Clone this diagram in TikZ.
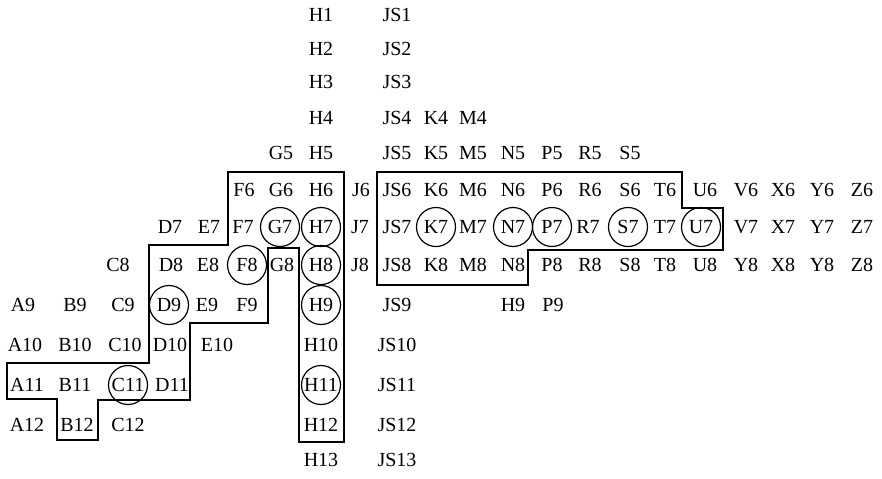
\documentclass[tikz,border=0pt]{standalone}
\usepackage{fontspec}
\setmainfont{Liberation Serif}

\begin{document}
\begin{tikzpicture}[x=0.5pt,y=-0.5pt,
    lbl/.style={inner sep=0pt, font=\fontsize{10}{12}\selectfont},
    ring/.style={lbl, draw, circle, minimum size=19.5pt, line width=0.6pt},
    rim/.style={line width=1.2pt, line join=miter}]
    \useasboundingbox (0,0) rectangle (882,478);

    % the two long columns
    \foreach \r/\y in {1/15,2/49,3/82,4/118,5/153,6/190,10/345,12/425,13/460}
        \node[lbl] (H\r) at (321,\y) {H\r};
    \foreach \r/\y in {7/227,8/265,9/305,11/385}
        \node[ring] (H\r) at (321,\y) {H\r};
    \foreach \r/\y in {1/15,2/49,3/82,4/118,5/153,6/190,7/227,8/265,9/305,10/345,11/385,12/425,13/460}
        \node[lbl] (JS\r) at (397,\y) {JS\r};

    % rows 4 and 5
    \node[lbl] (K4) at (436,118) {K4};
    \node[lbl] (M4) at (473,118) {M4};
    \foreach \c/\x in {G/281,K/436,M/473,N/513,P/552,R/590,S/630}
        \node[lbl] (\c5) at (\x,153) {\c5};

    % row 6
    \foreach \c/\x in {F/244,G/281,J/361,K/436,M/473,N/513,P/552,R/590,S/630,T/665,U/705,V/746,X/783,Y/822,Z/862}
        \node[lbl] (\c6) at (\x,190) {\c6};

    % row 7
    \foreach \c/\x in {D/170,E/209,F/243,J/360,M/473,R/588,T/665,V/746,X/783,Y/822,Z/862}
        \node[lbl] (\c7) at (\x,227) {\c7};
    \foreach \c/\x in {G/280,K/436,N/513,P/552,S/628,U/701}
        \node[ring] (\c7) at (\x,227) {\c7};

    % row 8
    \foreach \c/\x in {C/118,D/171,E/208,G/282,J/360,K/436,M/473,N/513,P/552,R/590,S/630,T/665,U/705,X/783,Y/822,Z/862}
        \node[lbl] (\c8) at (\x,265) {\c8};
    \node[lbl] (V8) at (746,265) {Y8};
    \node[ring] (F8) at (247,265) {F8};

    % row 9
    \foreach \c/\x in {A/23,B/75,C/123,E/207,F/247,P/553}
        \node[lbl] (\c9) at (\x,305) {\c9};
    \node[ring] (D9) at (169,305) {D9};
    \node[lbl] (N9) at (513,305) {H9};

    % rows 10 to 12
    \foreach \c/\x in {A/25,B/75,C/125,D/170,E/217}
        \node[lbl] (\c10) at (\x,345) {\c10};
    \foreach \c/\x in {A/27,B/75,D/172}
        \node[lbl] (\c11) at (\x,385) {\c11};
    \node[ring] (C11) at (128,385) {C11};
    \foreach \c/\x in {A/27,B/77,C/128}
        \node[lbl] (\c12) at (\x,425) {\c12};

    % outlines
    \draw[rim] (228,172) -- (344,172) -- (344,442) -- (299,442) -- (299,248)
        -- (268,248) -- (268,323) -- (190,323) -- (190,400) -- (98,400)
        -- (98,440) -- (57,440) -- (57,399) -- (7,399) -- (7,363)
        -- (149,363) -- (149,245) -- (228,245) -- cycle;
    \draw[rim] (377,172) -- (682,172) -- (682,208) -- (723,208) -- (723,250)
        -- (528,250) -- (528,285) -- (377,285) -- cycle;
\end{tikzpicture}
\end{document}
